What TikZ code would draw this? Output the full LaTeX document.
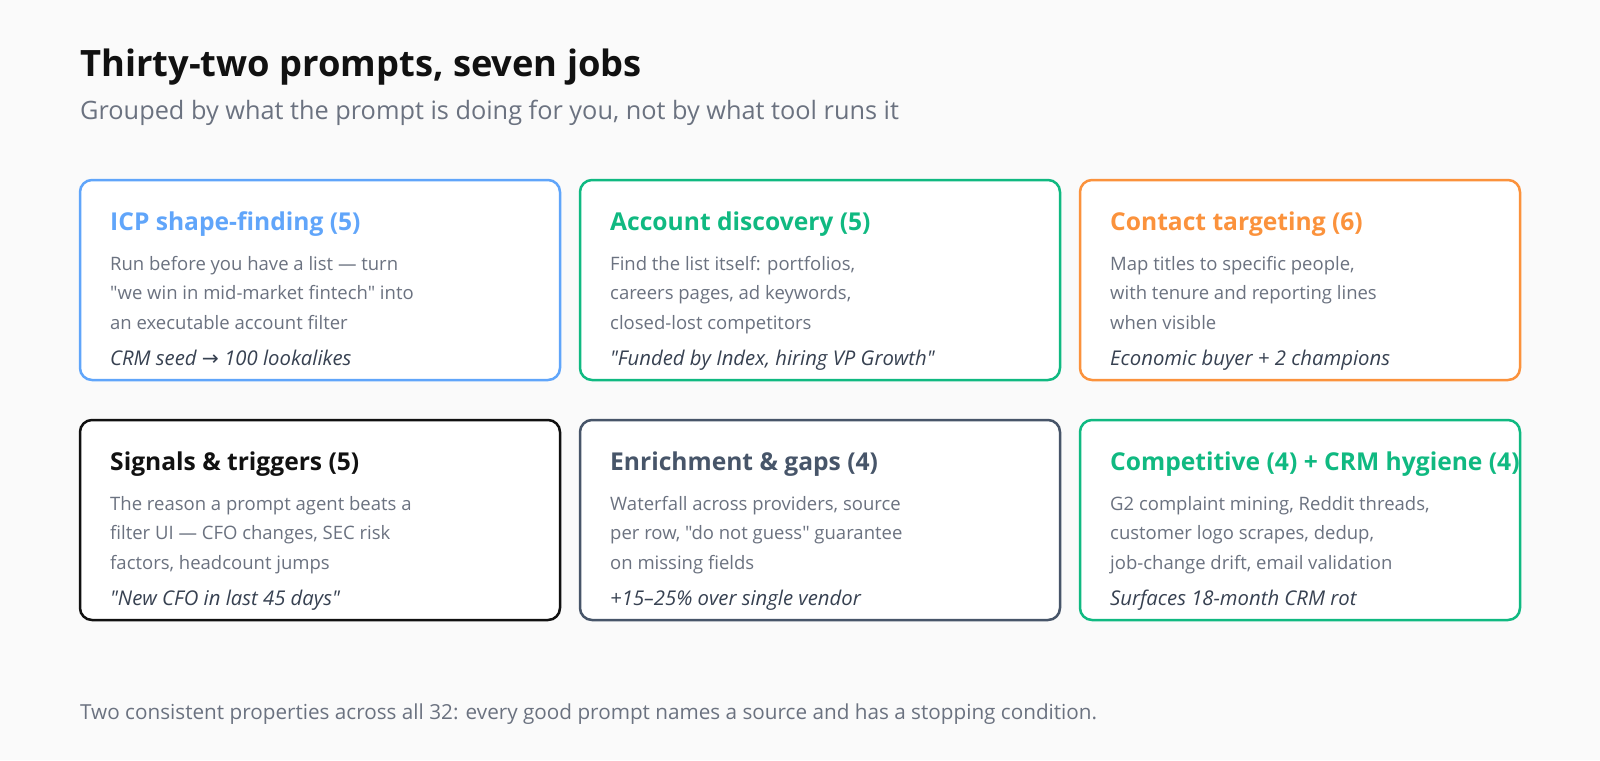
\documentclass[tikz,border=0pt]{standalone}
\usepackage{fontspec}
\setmainfont{Open Sans}[Ligatures=TeXOff]
\newfontfamily\symfont{DejaVu Sans}
\usetikzlibrary{calc}
\definecolor{bg}{HTML}{FAFAFA}
\definecolor{cblue}{HTML}{60A5FA}
\definecolor{cgreen}{HTML}{10B981}
\definecolor{corange}{HTML}{FB923C}
\definecolor{cblack}{HTML}{111111}
\definecolor{cslate}{HTML}{475569}
\definecolor{bodygray}{HTML}{6B7280}
\definecolor{exgray}{HTML}{374151}
\definecolor{titlecol}{HTML}{111111}
\tikzset{
  card/.style={draw=#1, line width=2.5pt, fill=white, rounded corners=12pt},
  ctitle/.style={anchor=base west, inner sep=0pt, text=#1, font=\fontsize{24.6}{28}\selectfont\bfseries},
  cbody/.style={anchor=base west, inner sep=0pt, text=bodygray, font=\fontsize{18.5}{22}\selectfont},
  cex/.style={anchor=base west, inner sep=0pt, text=exgray, font=\fontsize{20.3}{24}\selectfont\itshape},
}
\newcommand{\card}[9]{%
  \draw[card=#5] (#2,#3) rectangle ++(#4,200) coordinate (#1-se);
  \node[ctitle=#5] (#1-t) at ($(#2,#3)+(30,50)$) {#6};
  \node[cbody] (#1-a) at ($(#2,#3)+(30,90)$) {#7};
  \node[cbody] (#1-b) at ($(#2,#3)+(30,119.5)$) {#8};
  \node[cbody] (#1-c) at ($(#2,#3)+(30,149)$) {#9};
}
\begin{document}
\begin{tikzpicture}[x=1pt,y=-1pt]
\fill[bg] (0,0) rectangle (1600,760);
\useasboundingbox (0,0) rectangle (1600,760);
\node[anchor=base west, inner sep=0pt, text=titlecol, font=\fontsize{36.3}{42}\selectfont\bfseries] (title) at (80,76) {Thirty-two prompts, seven jobs};
\node[anchor=base west, inner sep=0pt, text=bodygray, font=\fontsize{25.3}{30}\selectfont] (sub) at (80,119) {Grouped by what the prompt is doing for you, not by what tool runs it};

\card{icp}{80}{180}{480}{cblue}{ICP shape-finding (5)}{Run before you have a list — turn}{"we win in mid-market fintech" into}{an executable account filter}
\node[cex] (icp-x) at (110,365) {CRM seed {\symfont\upshape →} 100 lookalikes};

\card{acc}{580}{180}{480}{cgreen}{Account discovery (5)}{Find the list itself: portfolios,}{careers pages, ad keywords,}{closed-lost competitors}
\node[cex] (acc-x) at (610,365) {"Funded by Index, hiring VP Growth"};

\card{con}{1080}{180}{440}{corange}{Contact targeting (6)}{Map titles to specific people,}{with tenure and reporting lines}{when visible}
\node[cex] (con-x) at (1110,365) {Economic buyer + 2 champions};

\card{sig}{80}{420}{480}{cblack}{Signals \& triggers (5)}{The reason a prompt agent beats a}{filter UI — CFO changes, SEC risk}{factors, headcount jumps}
\node[cex] (sig-x) at (110,605) {"New CFO in last 45 days"};

\card{enr}{580}{420}{480}{cslate}{Enrichment \& gaps (4)}{Waterfall across providers, source}{per row, "do not guess" guarantee}{on missing fields}
\node[cex] (enr-x) at (610,605) {+15–25\% over single vendor};

\card{cmp}{1080}{420}{440}{cgreen}{Competitive (4) + CRM hygiene (4)}{G2 complaint mining, Reddit threads,}{customer logo scrapes, dedup,}{job-change drift, email validation}
\node[cex] (cmp-x) at (1110,605) {Surfaces 18-month CRM rot};

\node[anchor=base west, inner sep=0pt, text=bodygray, font=\fontsize{20.7}{25}\selectfont] (foot) at (80,719) {Two consistent properties across all 32: every good prompt names a source and has a stopping condition.};
\end{tikzpicture}
\end{document}
